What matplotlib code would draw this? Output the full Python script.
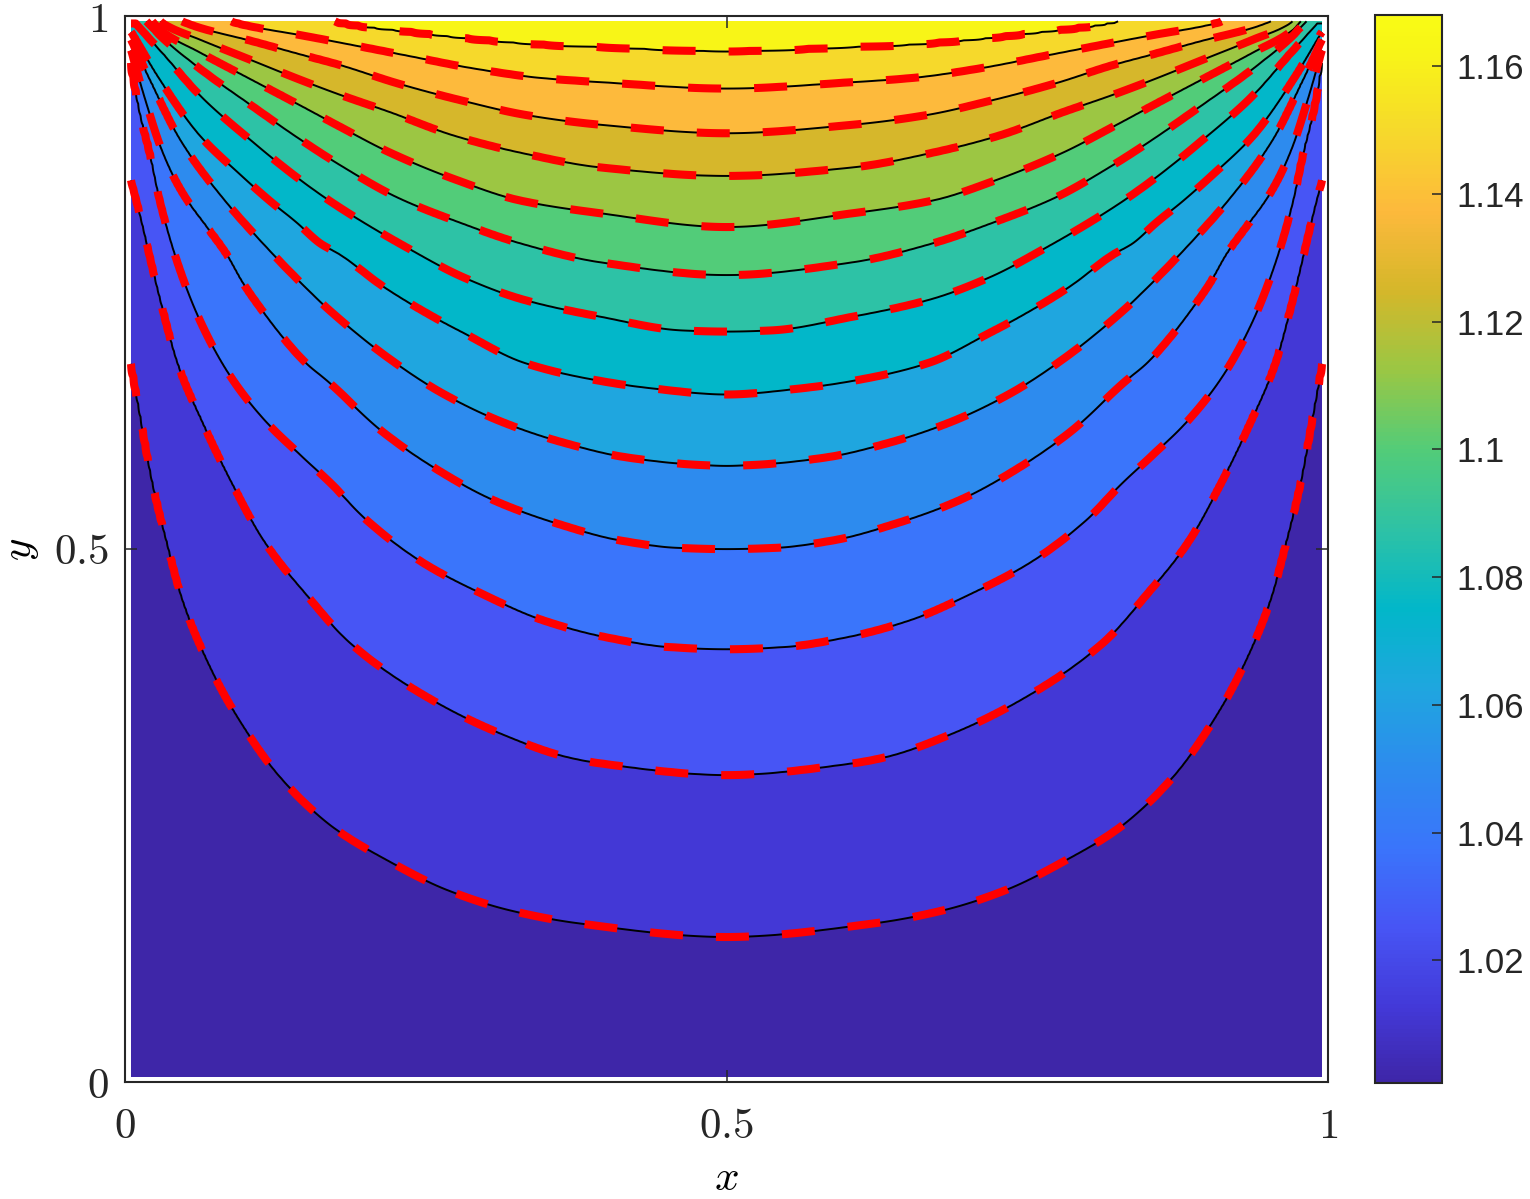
import numpy as np
import matplotlib
matplotlib.use('Agg')
import matplotlib.pyplot as plt
from matplotlib.colors import LinearSegmentedColormap, Normalize
from matplotlib.cm import ScalarMappable

plt.rcParams['mathtext.fontset'] = 'cm'
plt.rcParams['font.family'] = ['Liberation Sans', 'DejaVu Sans']
plt.rcParams['lines.dashed_pattern'] = [4.1, 4.1]

# contour levels and colour range
levels = [1.0125, 1.025, 1.0375, 1.05, 1.0625, 1.075, 1.0875,
          1.1, 1.1125, 1.125, 1.1375, 1.15, 1.1625]
vmin, vmax = 1.0008, 1.168
cbar_ticks = [1.02, 1.04, 1.06, 1.08, 1.1, 1.12, 1.14, 1.16]
cbar_labels = ['1.02', '1.04', '1.06', '1.08', '1.1', '1.12', '1.14', '1.16']

# contour traces read off the left half (field is symmetric about x=0.5)
# y = 1.0 marks where a level leaves through the top edge
l1_x = [0.005, 0.012, 0.023, 0.035, 0.048, 0.071, 0.090, 0.129, 0.173, 0.218, 0.268, 0.320, 0.376, 0.500]
l1_y = [0.674, 0.630, 0.562, 0.506, 0.452, 0.389, 0.349, 0.286, 0.239, 0.208, 0.180, 0.161, 0.149, 0.136]
l2_x = [0.005, 0.010, 0.029, 0.044, 0.065, 0.089, 0.116, 0.151, 0.187, 0.256, 0.312, 0.367, 0.395, 0.500]
l2_y = [0.846, 0.825, 0.736, 0.674, 0.618, 0.562, 0.507, 0.457, 0.412, 0.358, 0.327, 0.305, 0.299, 0.288]
l3_x = [0.005, 0.012, 0.021, 0.029, 0.043, 0.062, 0.087, 0.116, 0.146, 0.170, 0.201, 0.248, 0.295, 0.348, 0.401, 0.453, 0.500]
l3_y = [0.957, 0.912, 0.870, 0.827, 0.771, 0.715, 0.663, 0.621, 0.588, 0.563, 0.527, 0.487, 0.459, 0.433, 0.417, 0.408, 0.406]
l4_x = [0.005, 0.017, 0.029, 0.042, 0.052, 0.069, 0.085, 0.098, 0.114, 0.131, 0.150, 0.170, 0.212, 0.256, 0.306, 0.359, 0.412, 0.461, 0.500]
l4_y = [0.968, 0.921, 0.879, 0.846, 0.827, 0.801, 0.776, 0.750, 0.724, 0.699, 0.675, 0.656, 0.612, 0.577, 0.546, 0.524, 0.508, 0.501, 0.500]
l5_x = [0.005, 0.021, 0.046, 0.083, 0.112, 0.146, 0.170, 0.218, 0.264, 0.314, 0.364, 0.417, 0.476, 0.500]
l5_y = [0.978, 0.940, 0.884, 0.827, 0.790, 0.750, 0.724, 0.680, 0.646, 0.619, 0.600, 0.586, 0.579, 0.578]
l6_x = [0.005, 0.029, 0.062, 0.096, 0.120, 0.143, 0.162, 0.179, 0.215, 0.256, 0.281, 0.331, 0.384, 0.436, 0.500]
l6_y = [0.985, 0.940, 0.888, 0.851, 0.827, 0.806, 0.787, 0.776, 0.746, 0.718, 0.703, 0.675, 0.660, 0.651, 0.645]
l7_x = [0.009, 0.033, 0.062, 0.104, 0.146, 0.179, 0.234, 0.281, 0.331, 0.395, 0.464, 0.500]
l7_y = [0.993, 0.963, 0.926, 0.884, 0.846, 0.820, 0.783, 0.755, 0.734, 0.718, 0.705, 0.704]
l8_x = [0.014, 0.033, 0.062, 0.104, 0.146, 0.179, 0.226, 0.279, 0.328, 0.395, 0.500]
l8_y = [1.000, 0.978, 0.951, 0.917, 0.884, 0.860, 0.830, 0.806, 0.787, 0.769, 0.757]
l9_x = [0.019, 0.029, 0.062, 0.104, 0.146, 0.179, 0.220, 0.276, 0.328, 0.395, 0.500]
l9_y = [1.000, 0.987, 0.966, 0.941, 0.916, 0.896, 0.872, 0.846, 0.827, 0.815, 0.802]
l10_x = [0.025, 0.033, 0.062, 0.104, 0.146, 0.179, 0.220, 0.273, 0.328, 0.395, 0.500]
l10_y = [1.000, 0.992, 0.978, 0.959, 0.940, 0.926, 0.910, 0.888, 0.872, 0.858, 0.850]
l11_x = [0.037, 0.062, 0.104, 0.146, 0.179, 0.226, 0.279, 0.334, 0.395, 0.500]
l11_y = [1.000, 0.989, 0.977, 0.964, 0.954, 0.937, 0.921, 0.907, 0.898, 0.890]
l12_x = [0.075, 0.098, 0.146, 0.179, 0.234, 0.289, 0.345, 0.395, 0.500]
l12_y = [1.000, 0.992, 0.982, 0.975, 0.963, 0.951, 0.942, 0.938, 0.932]
l13_x = [0.162, 0.179, 0.239, 0.295, 0.351, 0.395, 0.500]
l13_y = [1.000, 0.994, 0.985, 0.978, 0.973, 0.971, 0.967]

traces = [(l1_x, l1_y), (l2_x, l2_y), (l3_x, l3_y), (l4_x, l4_y), (l5_x, l5_y),
          (l6_x, l6_y), (l7_x, l7_y), (l8_x, l8_y), (l9_x, l9_y), (l10_x, l10_y),
          (l11_x, l11_y), (l12_x, l12_y), (l13_x, l13_y)]

# parula-like colormap
cmap_pos = [0.0, 0.07, 0.145, 0.22, 0.294, 0.369, 0.444, 0.519, 0.594, 0.668, 0.743, 0.818, 0.893, 0.967, 1.0]
cmap_rgb = [(62, 38, 168), (67, 57, 216), (71, 85, 245), (58, 117, 251), (45, 139, 238),
            (31, 166, 223), (2, 183, 201), (46, 194, 165), (83, 204, 120), (154, 199, 68),
            (213, 183, 42), (253, 185, 60), (246, 217, 43), (248, 245, 23), (249, 251, 21)]
parula = LinearSegmentedColormap.from_list(
    'parula', [(p, tuple(c / 255 for c in rgb)) for p, rgb in zip(cmap_pos, cmap_rgb)])
norm = Normalize(vmin, vmax)


def pchip(x, y, xq):
    # monotone cubic through the traced points (keeps the curves smooth)
    x = np.asarray(x, float)
    y = np.asarray(y, float)
    h = np.diff(x)
    d = np.diff(y) / h
    m = np.zeros_like(y)
    m[0], m[-1] = d[0], d[-1]
    for k in range(1, len(x) - 1):
        if d[k - 1] * d[k] > 0:
            w1 = 2 * h[k] + h[k - 1]
            w2 = h[k] + 2 * h[k - 1]
            m[k] = (w1 + w2) / (w1 / d[k - 1] + w2 / d[k])
    xq = np.clip(xq, x[0], x[-1])
    i = np.clip(np.searchsorted(x, xq) - 1, 0, len(x) - 2)
    t = (xq - x[i]) / h[i]
    h00 = 2 * t**3 - 3 * t**2 + 1
    h10 = t**3 - 2 * t**2 + t
    h01 = -2 * t**3 + 3 * t**2
    h11 = t**3 - t**2
    return h00 * y[i] + h10 * h[i] * m[i] + h01 * y[i + 1] + h11 * h[i] * m[i + 1]


# build the field column by column from the traced contour positions
xg = np.linspace(0.005, 0.995, 500)
yg = np.linspace(0.005, 0.995, 500)
ycurves = []
for tx, ty in traces:
    fx = np.concatenate([tx, 1 - np.array(tx[-2::-1])])
    fy = np.concatenate([ty, ty[-2::-1]])
    ycurves.append(pchip(fx, fy, xg))
ycurves = np.maximum.accumulate(np.array(ycurves), axis=0)

Z = np.empty((len(yg), len(xg)))
for j in range(len(xg)):
    knots_y = np.concatenate([[0.0], ycurves[:, j], [1.001]])
    knots_v = np.concatenate([[1.0], levels, [1.2]])
    Z[:, j] = np.interp(yg, knots_y, knots_v)

fill_levels = [0.99] + levels + [1.21]
band_colors = [parula(0.0)] + [parula(norm(l)) for l in levels]

fig = plt.figure(figsize=(15.3, 11.99), dpi=100)
ax = fig.add_axes([125 / 1530, 117 / 1199, 1203 / 1530, 1066 / 1199])

ax.contourf(xg, yg, Z, levels=fill_levels, colors=band_colors)
ax.contour(xg, yg, Z, levels=levels, colors='k', linewidths=1.4)
ax.contour(xg, yg, Z, levels=levels, colors='#ff0000', linewidths=5.8, linestyles='dashed')

ax.set_xlim(0, 1)
ax.set_ylim(0, 1)
ax.set_xticks([0, 0.5, 1])
ax.set_yticks([0, 0.5, 1])
ax.set_xticklabels([r'$0$', r'$0.5$', r'$1$'], fontsize=31)
ax.set_yticklabels([r'$0$', r'$0.5$', r'$1$'], fontsize=31)
ax.tick_params(direction='in', length=8.6, width=1.1, color='#262626',
               top=True, right=True, labelcolor='#262626')
ax.tick_params(axis='x', pad=18)
ax.tick_params(axis='y', pad=12)
ax.set_xlabel(r'$x$', fontsize=31, labelpad=9)
ax.set_ylabel(r'$y$', fontsize=31, labelpad=9)
for s in ax.spines.values():
    s.set_linewidth(1.5)
    s.set_color('#262626')

cax = fig.add_axes([1375 / 1530, 116 / 1199, 67 / 1530, 1068 / 1199])
sm = ScalarMappable(norm=norm, cmap=parula)
cb = fig.colorbar(sm, cax=cax, ticks=cbar_ticks)
cb.set_ticklabels(cbar_labels)
cax.tick_params(direction='in', length=7, width=1.1, color='#262626',
                labelsize=25, labelcolor='#262626', pad=10)
cb.outline.set_linewidth(1.5)
cb.outline.set_edgecolor('#262626')

fig.savefig('out.png', dpi=100)
